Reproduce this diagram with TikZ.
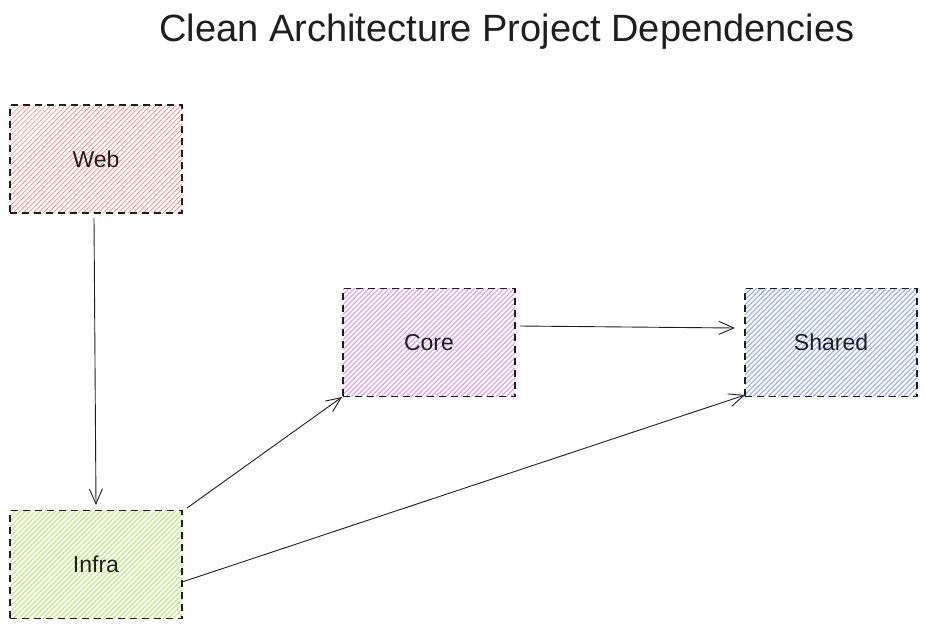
\documentclass[tikz,border=0pt]{standalone}
\usepackage{fontspec}
\setmainfont{Liberation Sans}
\usetikzlibrary{arrows.meta}
\definecolor{webc}{HTML}{FF8787}
\definecolor{corec}{HTML}{DA77F2}
\definecolor{sharedc}{HTML}{748FFC}
\definecolor{infrac}{HTML}{A9E34B}
\definecolor{inkc}{HTML}{1E1E1E}
\tikzset{
  proj/.style={draw=inkc, line width=1.3pt, dash pattern=on 7pt off 5pt,
    minimum width=172pt, minimum height=108pt, inner sep=0pt,
    font=\fontsize{23}{27}\selectfont, text=inkc},
  hatch/.style={path picture={
    \foreach \i in {-112,-107,...,178}
      \draw[#1, line width=0.7pt, solid]
        ([xshift=\i pt]path picture bounding box.south west) -- ++(120pt,120pt);
  }},
  dep/.style={draw=inkc, line width=0.9pt, -{Straight Barb[length=15pt,width=13pt,line width=0.9pt]}},
}
\begin{document}
\begin{tikzpicture}[x=1pt,y=-1pt]
\useasboundingbox (0,0) rectangle (925,627);
\node[font=\fontsize{38}{44}\selectfont, text=inkc] (title) at (507,32) {Clean Architecture Project Dependencies};
\node[proj, hatch=webc] (web) at (96,159) {Web};
\node[proj, hatch=corec] (core) at (429,342.5) {Core};
\node[proj, hatch=sharedc] (shared) at (831,342.5) {Shared};
\node[proj, hatch=infrac] (infra) at (96,564.5) {Infra};
\coordinate (w1) at (94,218);
\coordinate (i1) at (96,505);
\coordinate (i2) at (187,508);
\coordinate (c1) at (342,397);
\coordinate (i3) at (182,582);
\coordinate (s1) at (745,395);
\coordinate (c2) at (520,326);
\coordinate (s2) at (735,328);
\draw[dep] (w1) -- (i1);
\draw[dep] (i2) -- (c1);
\draw[dep] (i3) -- (s1);
\draw[dep] (c2) -- (s2);
\end{tikzpicture}
\end{document}
